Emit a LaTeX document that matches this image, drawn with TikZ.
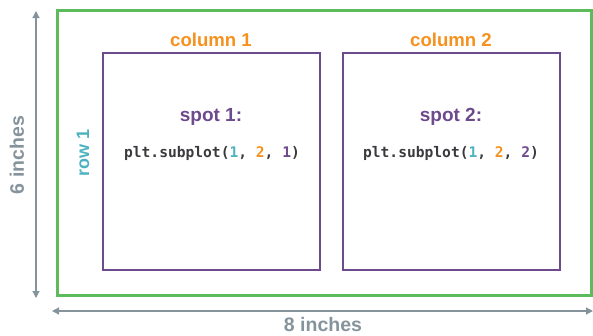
\documentclass[tikz,border=0pt]{standalone}
\usepackage{fontspec}
\setmainfont{Liberation Sans}
\setmonofont{DejaVu Sans Mono}
\usetikzlibrary{arrows.meta}
\definecolor{figgreen}{HTML}{5CBB5A}
\definecolor{spotpurple}{HTML}{6D4A8C}
\definecolor{colorange}{HTML}{F7911E}
\definecolor{rowteal}{HTML}{4DB3C0}
\definecolor{dimgray}{HTML}{85949C}
\definecolor{codegray}{HTML}{3A3A3E}
\tikzset{
  figframe/.style={draw=figgreen, line width=3pt},
  spotbox/.style={draw=spotpurple, line width=2pt},
  dimline/.style={draw=dimgray, line width=1.2pt, {Triangle[length=7pt,width=7pt]}-{Triangle[length=7pt,width=7pt]}},
  dimlabel/.style={text=dimgray, font=\bfseries\fontsize{19.5}{22}\selectfont},
  collabel/.style={text=colorange, font=\bfseries\fontsize{18.6}{21}\selectfont},
  rowlabel/.style={text=rowteal, font=\bfseries\fontsize{18}{20}\selectfont},
  spotlabel/.style={text=spotpurple, font=\bfseries\fontsize{19}{21}\selectfont},
  codelabel/.style={text=codegray, font=\ttfamily\bfseries\fontsize{14.6}{17}\selectfont},
}
\begin{document}
\begin{tikzpicture}[x=1pt, y=-1pt]
  \useasboundingbox (0,0) rectangle (593,335);

  % figure area
  \draw[figframe] (57,10) rectangle (591,295);

  % subplot spots
  \draw[spotbox] (103,53) rectangle (320,270);
  \draw[spotbox] (343,53) rectangle (560,270);

  % dimension arrows
  \coordinate (vtop) at (36,11);
  \coordinate (vbot) at (36,298);
  \coordinate (hleft) at (52,311);
  \coordinate (hright) at (593,311);
  \draw[dimline] (vtop) -- (vbot);
  \draw[dimline] (hleft) -- (hright);

  \node[dimlabel, rotate=90] (height) at (17,155) {6 inches};
  \node[dimlabel] (width) at (323,325) {8 inches};

  % grid labels
  \node[collabel] (col1) at (211,40) {column 1};
  \node[collabel] (col2) at (451,40) {column 2};
  \node[rowlabel, rotate=90] (row1) at (83,153) {row 1};

  % spot contents
  \node[spotlabel] (spot1) at (211,117) {spot 1:};
  \node[spotlabel] (spot2) at (451,117) {spot 2:};
  \node[codelabel] (code1) at (212,153) {plt.subplot(\textcolor{rowteal}{1}, \textcolor{colorange}{2}, \textcolor{spotpurple}{1})};
  \node[codelabel] (code2) at (451,153) {plt.subplot(\textcolor{rowteal}{1}, \textcolor{colorange}{2}, \textcolor{spotpurple}{2})};
\end{tikzpicture}
\end{document}
